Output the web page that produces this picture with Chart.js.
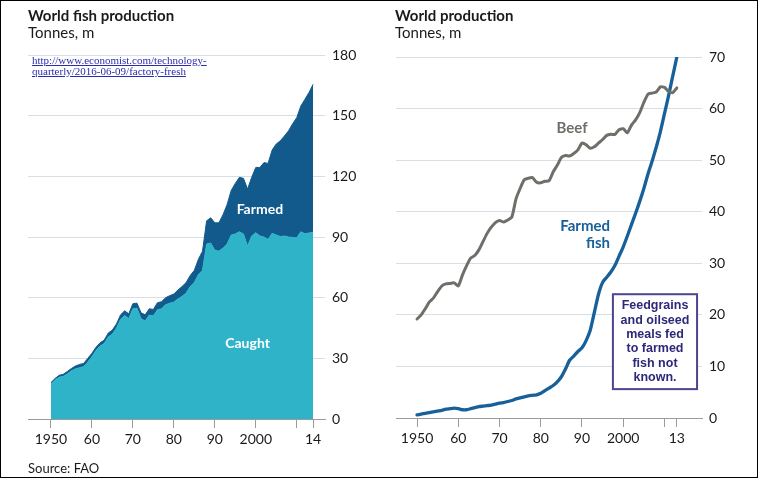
<!DOCTYPE html>
<html>
<head>
<meta charset="utf-8">
<script src="https://cdn.jsdelivr.net/npm/chart.js@4"></script>
<style>
  body { margin: 0; background: #fff; }
  #wrap { position: relative; width: 758px; height: 478px; overflow: hidden; font-family: Lato, sans-serif; color: #1a1a1a; }
  canvas { position: absolute; top: 0; }
  .title { position: absolute; font-size: 15px; font-weight: bold; line-height: 18px; white-space: nowrap; }
  .sub { position: absolute; font-size: 15px; line-height: 18px; white-space: nowrap; }
  .link { position: absolute; left: 32px; top: 55px; font-family: "Liberation Serif", serif; font-size: 11px; line-height: 11px; color: #2b2bb0; text-decoration: underline; white-space: nowrap; }
  .source { position: absolute; left: 28px; top: 460px; font-size: 13px; white-space: nowrap; }
  #frame { position: absolute; left: 0; top: 0; width: 758px; height: 478px; box-sizing: border-box; border: 1px solid #000; pointer-events: none; }
</style>
</head>
<body>
<div id="wrap">
  <canvas id="fishChart" width="379" height="478" style="left:0"></canvas>
  <canvas id="prodChart" width="379" height="478" style="left:379px"></canvas>
  <div class="title" style="left:28px;top:6px">World fish production</div>
  <div class="sub" style="left:28px;top:23px">Tonnes, m</div>
  <div class="link">http://www.economist.com/technology-<br>quarterly/2016-06-09/factory-fresh</div>
  <div class="source">Source: FAO</div>
  <div class="title" style="left:395px;top:6px">World production</div>
  <div class="sub" style="left:395px;top:23px">Tonnes, m</div>
  <div id="frame"></div>
</div>
<script>
// Left chart: world fish production, 1950-2014
const fishYears = [1950, 1951, 1952, 1953, 1954, 1955, 1956, 1957, 1958, 1959,
    1960, 1961, 1962, 1963, 1964, 1965, 1966, 1967, 1968, 1969,
    1970, 1971, 1972, 1973, 1974, 1975, 1976, 1977, 1978, 1979,
    1980, 1981, 1982, 1983, 1984, 1985, 1986, 1987, 1988, 1989,
    1990, 1991, 1992, 1993, 1994, 1995, 1996, 1997, 1998, 1999,
    2000, 2001, 2002, 2003, 2004, 2005, 2006, 2007, 2008, 2009,
    2010, 2011, 2012, 2013, 2014];
const caught = [17.4, 19.3, 20.7, 21.1, 22.3, 23.8, 24.8, 25.4, 25.9, 28.2,
    30.8, 33.9, 36.1, 37.3, 40.6, 42.0, 45.0, 49.3, 51.2, 49.6,
    54.5, 54.8, 49.6, 48.5, 51.4, 51.0, 54.0, 54.5, 56.5, 57.3,
    57.8, 59.4, 60.6, 62.3, 65.5, 67.5, 71.5, 73.5, 86.5, 87.0,
    83.5, 83.0, 84.5, 86.5, 91.0, 91.5, 92.6, 91.5, 85.5, 90.5,
    92.1, 90.5, 90.0, 88.8, 91.8, 91.0, 90.2, 90.5, 90.0, 89.8,
    89.6, 92.6, 91.6, 92.0, 92.4];
const farmed = [0.6, 0.7, 0.9, 1.0, 1.2, 1.2, 1.4, 1.6, 1.6, 1.8,
    1.7, 1.6, 1.6, 1.7, 1.9, 2.0, 2.0, 2.2, 2.3, 2.4,
    2.5, 2.5, 2.9, 3.0, 3.1, 3.2, 3.5, 3.5, 3.5, 3.7,
    4.0, 4.4, 4.9, 5.2, 5.5, 6.0, 7.5, 9.5, 11.5, 12.5,
    13.5, 14.0, 16.5, 19.5, 22.0, 25.0, 26.9, 27.5, 28.2, 29.0,
    32.3, 33.9, 36.8, 37.6, 41.2, 45.0, 47.4, 49.5, 52.5, 56.2,
    59.4, 62.2, 66.5, 69.5, 73.1];
const fishTickYears = [1950, 1960, 1970, 1980, 1990, 2000, 2010, 2014];
const fishTickLabels = ['1950', '60', '70', '80', '90', '2000', '', '14'];

// Right chart: beef vs farmed fish, 1950-2013
const prodYears = fishYears.slice(0, 64);
const beef = [19.2, 20.0, 21.2, 22.5, 23.3, 24.5, 25.6, 26.0, 26.1, 26.2,
    25.6, 27.7, 29.5, 31.0, 31.5, 32.6, 34.2, 35.8, 37.0, 37.9,
    38.3, 38.0, 38.4, 39.0, 42.5, 44.5, 46.2, 46.5, 46.6, 45.7,
    45.6, 45.9, 46.0, 47.7, 49.0, 50.5, 50.9, 50.8, 51.3, 52.0,
    53.3, 53.0, 52.3, 52.6, 53.3, 54.0, 54.8, 55.0, 55.0, 55.9,
    56.1, 55.3, 56.8, 57.8, 59.2, 61.2, 62.8, 63.0, 63.2, 64.2,
    64.1, 63.3, 63.1, 64.0];
const farmedFish = [0.6, 0.75, 0.9, 1.05, 1.2, 1.35, 1.5, 1.7, 1.8, 1.9,
    1.8, 1.6, 1.6, 1.8, 2.0, 2.2, 2.3, 2.4, 2.5, 2.7,
    2.9, 3.0, 3.2, 3.4, 3.7, 3.9, 4.1, 4.3, 4.4, 4.5,
    4.8, 5.3, 5.8, 6.3, 7.0, 8.0, 9.5, 11.2, 12.0, 12.9,
    13.6, 15.0, 17.0, 20.5, 24.0, 26.3, 27.3, 28.3, 29.6, 31.4,
    33.2, 35.3, 37.5, 39.7, 42.0, 44.5, 47.3, 49.8, 52.5, 55.5,
    59.0, 62.5, 66.3, 70.0];
const prodTickYears = [1950, 1960, 1970, 1980, 1990, 2000, 2010, 2013];
const prodTickLabels = ['1950', '60', '70', '80', '90', '2000', '', '13'];

const AXIS_GREY = '#9b9b9b';
const GRID = '#d8dee5';

function points(years, values) {
    return years.map((y, i) => ({ x: y, y: values[i] }));
}

// draws in-chart labels and the note box, anchored in data units
const notesPlugin = {
    id: 'notes',
    afterDatasetsDraw(chart, args, opts) {
        const { ctx, scales: { x, y } } = chart;
        ctx.save();
        (opts.boxes || []).forEach(b => {
            const x0 = x.getPixelForValue(b.x0), x1 = x.getPixelForValue(b.x1);
            const y0 = y.getPixelForValue(b.y0), y1 = y.getPixelForValue(b.y1);
            ctx.fillStyle = '#fff';
            ctx.fillRect(x0, y0, x1 - x0, y1 - y0);
            ctx.strokeStyle = b.border;
            ctx.lineWidth = 2;
            ctx.strokeRect(x0, y0, x1 - x0, y1 - y0);
            ctx.fillStyle = b.color;
            ctx.font = b.font;
            ctx.textAlign = 'center';
            ctx.textBaseline = 'middle';
            const cx = (x0 + x1) / 2;
            const top = (y0 + y1) / 2 - (b.lines.length - 1) * b.lineHeight / 2;
            b.lines.forEach((t, i) => ctx.fillText(t, cx, top + i * b.lineHeight));
        });
        (opts.labels || []).forEach(l => {
            ctx.fillStyle = l.color;
            ctx.font = l.font;
            ctx.textAlign = l.align || 'center';
            ctx.textBaseline = 'middle';
            ctx.fillText(l.text, x.getPixelForValue(l.x), y.getPixelForValue(l.y));
        });
        ctx.restore();
    }
};

function axes(cfg) {
    return {
        x: {
            type: 'linear', min: cfg.xMin, max: cfg.xMax,
            grid: { drawOnChartArea: false, drawTicks: true, tickLength: 9, color: AXIS_GREY },
            border: { display: true, color: AXIS_GREY },
            ticks: {
                autoSkip: false, maxRotation: 0, padding: 3, color: '#1a1a1a',
                font: { family: 'Lato', size: 14 },
                callback: (v, i) => cfg.tickLabels[i]
            },
            afterBuildTicks: s => { s.ticks = cfg.tickYears.map(v => ({ value: v })); },
            afterFit: s => { s.height = cfg.xAxisHeight; }
        },
        y: {
            position: 'right', min: 0, max: cfg.yMax, stacked: cfg.stacked,
            grid: { drawTicks: false, color: c => c.tick.value === 0 ? AXIS_GREY : GRID },
            border: { display: false },
            ticks: { stepSize: cfg.yStep, padding: 7, color: '#1a1a1a', font: { family: 'Lato', size: 14 } },
            afterFit: s => { s.width = cfg.yAxisWidth; }
        }
    };
}

new Chart(document.getElementById('fishChart'), {
    type: 'line',
    data: {
        datasets: [
            {
                label: 'Caught',
                data: points(fishYears, caught),
                backgroundColor: '#2eb3c8',
                borderColor: '#2eb3c8',
                borderWidth: 1,
                fill: 'origin'
            },
            {
                label: 'Farmed',
                data: points(fishYears, farmed),
                backgroundColor: '#125a8c',
                borderColor: '#125a8c',
                borderWidth: 1,
                fill: '-1'
            }
        ]
    },
    plugins: [notesPlugin],
    options: {
        responsive: false,
        animation: false,
        layout: { padding: { left: 28, top: 55, right: 0, bottom: 0 } },
        elements: { point: { radius: 0 }, line: { tension: 0 } },
        plugins: {
            legend: { display: false },
            tooltip: { enabled: false },
            notes: {
                labels: [
                    { text: 'Farmed', x: 2001, y: 103.5, color: '#fff', font: 'bold 14px Lato' },
                    { text: 'Caught', x: 1998, y: 37.5, color: '#fff', font: 'bold 14px Lato' }
                ]
            }
        },
        scales: axes({
            xMin: 1944.4, xMax: 2016.9, tickYears: fishTickYears, tickLabels: fishTickLabels,
            yMax: 180, yStep: 30, stacked: true, xAxisHeight: 59, yAxisWidth: 54
        })
    }
});

new Chart(document.getElementById('prodChart'), {
    type: 'line',
    data: {
        datasets: [
            {
                label: 'Beef',
                data: points(prodYears, beef),
                borderColor: '#6e6f68',
                borderWidth: 3,
                fill: false
            },
            {
                label: 'Farmed fish',
                data: points(prodYears, farmedFish),
                borderColor: '#17609a',
                borderWidth: 3.3,
                fill: false
            }
        ]
    },
    plugins: [notesPlugin],
    options: {
        responsive: false,
        animation: false,
        layout: { padding: { left: 17, top: 57, right: 0, bottom: 0 } },
        elements: { point: { radius: 0 }, line: { tension: 0.2, borderCapStyle: 'round', borderJoinStyle: 'round' } },
        plugins: {
            legend: { display: false },
            tooltip: { enabled: false },
            notes: {
                boxes: [
                    {
                        x0: 1997.5, x1: 2017.9, y0: 24.0, y1: 5.6,
                        border: '#4d4590', color: '#2d2878', font: 'bold 12.5px "Liberation Sans", Arial, sans-serif',
                        lineHeight: 14.3,
                        lines: ['Feedgrains', 'and oilseed', 'meals fed', 'to farmed', 'fish not', 'known.']
                    }
                ],
                labels: [
                    { text: 'Beef', x: 1987.6, y: 56.2, color: '#6e6f68', font: 'bold 15px Lato' },
                    { text: 'Farmed', x: 1996.8, y: 37.2, color: '#17609a', font: 'bold 15px Lato', align: 'right' },
                    { text: 'fish', x: 1996.8, y: 33.9, color: '#17609a', font: 'bold 15px Lato', align: 'right' }
                ]
            }
        },
        scales: axes({
            xMin: 1944.9, xMax: 2019.1, tickYears: prodTickYears, tickLabels: prodTickLabels,
            yMax: 70, yStep: 10, stacked: false, xAxisHeight: 60, yAxisWidth: 56
        })
    }
});
</script>
</body>
</html>
